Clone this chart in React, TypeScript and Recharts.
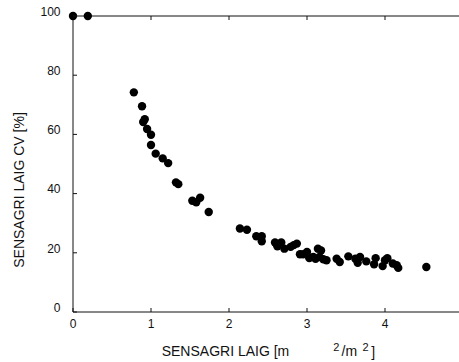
import React from 'react';
import { ScatterChart, Scatter, XAxis, YAxis } from 'recharts';

const laig = [
  0, 0.19, 0.78, 0.885, 0.9, 0.92, 0.95, 1.0, 1.0, 1.06, 1.15, 1.22, 1.32, 1.35, 1.53, 1.58, 1.63, 1.74,
  2.14, 2.23, 2.35, 2.42, 2.42, 2.59, 2.62, 2.67, 2.71, 2.79, 2.83, 2.87, 2.91, 2.95, 3.0, 3.03, 3.08,
  3.11, 3.14, 3.16, 3.18, 3.21, 3.25, 3.38, 3.42, 3.53, 3.62, 3.65, 3.68, 3.76, 3.86, 3.88, 3.97, 4.0,
  4.03, 4.1, 4.15, 4.17, 4.53,
];
const cv = [
  100, 100, 74.2, 69.5, 64.2, 65.1, 61.8, 59.9, 56.4, 53.5, 51.9, 50.3, 43.8, 43.2, 37.6, 37.1, 38.6, 33.8,
  28.2, 27.8, 25.6, 25.6, 23.9, 23.5, 22.2, 23.5, 21.4, 22.0, 22.6, 23.1, 19.5, 19.5, 20.3, 18.2, 18.6,
  18.0, 21.4, 18.6, 20.8, 17.8, 17.5, 18.0, 16.9, 18.8, 18.0, 16.6, 18.6, 17.1, 16.1, 18.2, 15.5, 17.5,
  18.2, 16.4, 15.8, 14.9, 15.2,
];
const xTicks = [0, 1, 2, 3, 4];
const topTicks = [1, 2, 3, 4];
const yTicks = [0, 20, 40, 60, 80, 100];

const data = laig.map((x, i) => ({ laig: x, cv: cv[i] }));

const FONT = '"Liberation Sans", Arial, sans-serif';
const INK = '#111';

const BottomTick = (props: any) => {
  const { x, y, payload } = props;
  return (
    <g>
      <line x1={x} y1={y} x2={x} y2={y - 4} stroke={INK} strokeWidth={1} />
      <text x={x} y={y + 15.5} textAnchor="middle" fontSize={12} fontFamily={FONT} fill={INK}>
        {payload.value}
      </text>
    </g>
  );
};

const TopTick = (props: any) => {
  const { x, y } = props;
  return <line x1={x} y1={y} x2={x} y2={y + 4} stroke={INK} strokeWidth={1} />;
};

const LeftTick = (props: any) => {
  const { x, y, payload } = props;
  return (
    <g>
      <line x1={x} y1={y} x2={x + 4} y2={y} stroke={INK} strokeWidth={1} />
      <text x={x - 12.5} y={y - 0.3} textAnchor="end" fontSize={12} fontFamily={FONT} fill={INK}>
        {payload.value}
      </text>
    </g>
  );
};

const XTitle = (props: any) => {
  const vb = props.viewBox || { x: 73, y: 312 };
  const x0 = vb.x + 88.7;
  const base = vb.y + 43.7;
  return (
    <text y={base} fontSize={14} fontFamily={FONT} fill={INK}>
      <tspan x={x0}>SENSAGRI LAIG [m</tspan>
      <tspan x={x0 + 171.5} dy={-4.7} fontSize={11}>2</tspan>
      <tspan x={x0 + 179.8} dy={4.7}>/m</tspan>
      <tspan x={x0 + 200.8} dy={-4.7} fontSize={11}>2</tspan>
      <tspan x={x0 + 209.5} dy={5.7}>]</tspan>
    </text>
  );
};

const YTitle = (props: any) => {
  const vb = props.viewBox || { x: 13, y: 16 };
  const bx = vb.x + 11;
  const cy = vb.y + 174;
  return (
    <text
      x={bx}
      y={cy}
      transform={`rotate(-90, ${bx}, ${cy})`}
      textAnchor="middle"
      fontSize={14}
      fontFamily={FONT}
      fill={INK}
    >
      SENSAGRI LAIG CV [%]
    </text>
  );
};

export default function App() {
  return (
    <div style={{ position: 'absolute', left: 0, top: 0, width: 459, height: 362, overflow: 'hidden', background: '#fff' }}>
      <ScatterChart width={470} height={362} margin={{ top: 15, right: 7, bottom: 10, left: 13 }}>
        <XAxis
          type="number"
          dataKey="laig"
          domain={[0, 5]}
          ticks={xTicks}
          height={40}
          axisLine={{ stroke: INK, strokeWidth: 1 }}
          tickLine={false}
          tickSize={0}
          tickMargin={0}
          tick={<BottomTick />}
          interval={0}
          label={{ content: (p: any) => <XTitle {...p} /> }}
        />
        <XAxis
          xAxisId="top"
          orientation="top"
          type="number"
          dataKey="laig"
          domain={[0, 5]}
          ticks={topTicks}
          height={1}
          axisLine={{ stroke: INK, strokeWidth: 1 }}
          tickLine={false}
          tickSize={0}
          tickMargin={0}
          tick={<TopTick />}
          interval={0}
          allowDataOverflow
        />
        <YAxis
          type="number"
          dataKey="cv"
          domain={[0, 100]}
          ticks={yTicks}
          width={60}
          axisLine={{ stroke: INK, strokeWidth: 1 }}
          tickLine={false}
          tickSize={0}
          tickMargin={0}
          tick={<LeftTick />}
          interval={0}
          label={{ content: (p: any) => <YTitle {...p} /> }}
        />
        <Scatter
          data={data}
          isAnimationActive={false}
          shape={(p: any) => <circle cx={p.cx} cy={p.cy} r={4.2} fill="#000" />}
        />
      </ScatterChart>
    </div>
  );
}
